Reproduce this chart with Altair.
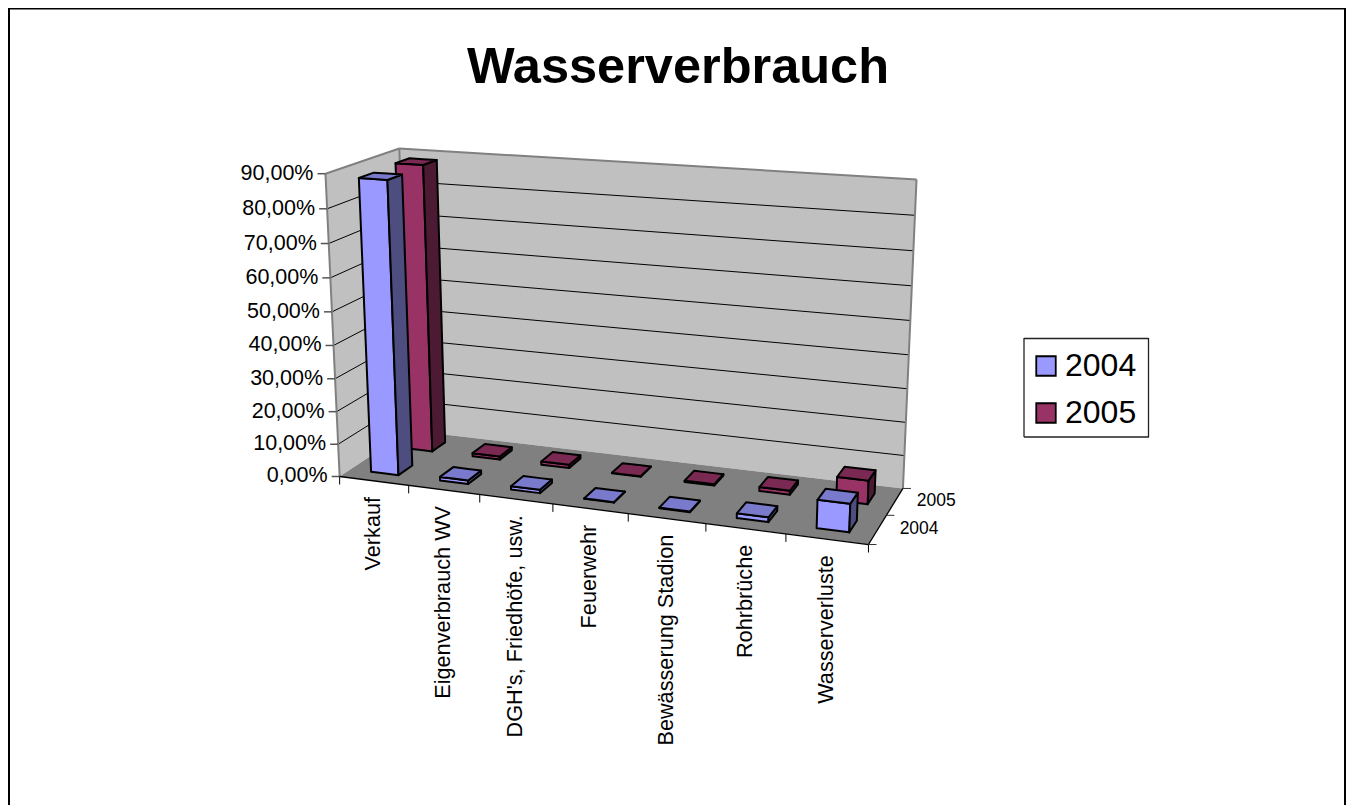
import altair as alt
import numpy as np
import pandas as pd

categories = ["Verkauf", "Eigenverbrauch WV", "DGH's, Friedhöfe, usw.", "Feuerwehr",
              "Bewässerung Stadion", "Rohrbrüche", "Wasserverluste"]
values_2004 = [88.0, 1.1, 1.0, 0.1, 0.2, 1.4, 8.2]
values_2005 = [88.5, 1.0, 1.0, 0.1, 0.4, 1.2, 7.0]
value_ticks = ["0,00%", "10,00%", "20,00%", "30,00%", "40,00%", "50,00%", "60,00%", "70,00%", "80,00%", "90,00%"]
series = ["2004", "2005"]
fills = {"2004": ("#9999FF", "#4D4D80", "#7A7ACC"), "2005": ("#993366", "#4D1A33", "#7A2952")}

W, H = 1338, 797
OX, OY = 8, 8
FONT = "Liberation Sans"

# camera calibrated from the reference's box corners and tick positions: (u, depth, z) -> pixel
calib = [((0, 0, 0), (340, 477)), ((1, 0, 0), (868.3, 544.3)), ((0, 1, 0), (410, 430)), ((1, 1, 0), (903.3, 488)),
         ((0, 0, 1), (326.7, 172.7)), ((0, 1, 1), (398, 149)), ((1, 1, 1), (916.7, 180))]
for k, px in enumerate([408, 480, 552, 628, 706, 786]):
    calib.append((((k + 1) / 7, 0, 0), (px, 477 + (px - 340) * 0.1274)))
A = []
for (u, d, z), (px, py) in calib:
    X = [u, d, z, 1]
    A.append(X + [0, 0, 0, 0] + [-px * c for c in X])
    A.append([0, 0, 0, 0] + X + [-py * c for c in X])
P = np.linalg.svd(np.array(A, float))[2][-1].reshape(3, 4)


def proj(u, d, z):
    v = P @ np.array([u, d, z, 1.0])
    return (float(v[0] / v[2]), float(v[1] / v[2]))


def area_rows(pid, pts, fill):
    xs = sorted({round(p[0], 3) for p in pts})
    rows = []
    n = len(pts)
    for x in xs:
        ys = []
        for i in range(n):
            (x0, y0), (x1, y1) = pts[i], pts[(i + 1) % n]
            lo, hi = min(x0, x1) - 1e-3, max(x0, x1) + 1e-3
            if lo <= x <= hi:
                if abs(x1 - x0) < 1e-6:
                    ys += [y0, y1]
                else:
                    ys.append(y0 + (y1 - y0) * (x - x0) / (x1 - x0))
        rows.append(dict(pid=pid, x=x, y=min(ys), y2=max(ys), fill=fill))
    return rows


xs = alt.Scale(domain=[OX, OX + W], nice=False, zero=False)
ys = alt.Scale(domain=[OY + H, OY], nice=False, zero=False)
X = alt.X("x:Q", scale=xs, axis=None)
Y = alt.Y("y:Q", scale=ys, axis=None)


def polys(rows, **kw):
    return alt.Chart(pd.DataFrame(rows)).mark_area(interpolate="linear", clip=False, **kw).encode(
        x=X, y=Y, y2="y2:Q", detail="pid:N", fill=alt.Fill("fill:N", scale=None))


def lines(rows):
    return alt.Chart(pd.DataFrame(rows)).mark_rule().encode(
        x=X, y=Y, x2="x2:Q", y2="y2:Q",
        stroke=alt.Stroke("c:N", scale=None), strokeWidth=alt.StrokeWidth("w:Q", scale=None))


def seg(p, q, c, w):
    return dict(x=p[0], y=p[1], x2=q[0], y2=q[1], c=c, w=w)


# walls and floor
wall_rows = []
wall_rows += area_rows("left", [proj(0, 0, 0), proj(0, 1, 0), proj(0, 1, 1), proj(0, 0, 1)], "#C0C0C0")
wall_rows += area_rows("back", [proj(0, 1, 0), proj(1, 1, 0), proj(1, 1, 1), proj(0, 1, 1)], "#C0C0C0")
floor_rows = area_rows("floor", [proj(0, 0, 0), proj(1, 0, 0), proj(1, 1, 0), proj(0, 1, 0)], "#808080")

line_rows = []
for k in range(1, 9):
    z = k / 9
    line_rows.append(seg(proj(0, 0, z), proj(0, 1, z), "#000000", 1))
    line_rows.append(seg(proj(0, 1, z), proj(1, 1, z), "#000000", 1))
for a, b in [((0, 0, 0), (0, 0, 1)), ((0, 0, 1), (0, 1, 1)), ((0, 1, 1), (1, 1, 1)), ((1, 1, 1), (1, 1, 0)), ((0, 1, 1), (0, 1, 0))]:
    line_rows.append(seg(proj(*a), proj(*b), "#808080", 2))
line_rows.append(seg(proj(0, 0, 0), proj(1, 0, 0), "#000000", 1.3))
line_rows.append(seg(proj(1, 0, 0), proj(1, 1, 0), "#000000", 1.3))

tick_rows = []
for k in range(10):
    p = proj(0, 0, k / 9)
    tick_rows.append(seg((p[0] - 8, p[1]), p, "#555555", 1.5))
for k in range(8):
    p = proj(k / 7, 0, 0)
    tick_rows.append(seg(p, (p[0], p[1] + 8), "#000000", 1))
for d in (0, 0.5, 1):
    p = proj(1, d, 0)
    tick_rows.append(seg(p, (p[0] + 8, p[1]), "#333333", 1))

# bars
bar_rows = []
for si, (name, vals) in reversed(list(enumerate(zip(series, (values_2004, values_2005))))):
    dc = 0.25 + 0.5 * si
    d0, d1 = dc - 0.1, dc + 0.1
    front, side, top = fills[name]
    for i, v in enumerate(vals):
        u0, u1 = (i + 0.3) / 7, (i + 0.7) / 7
        z = v / 90
        pid = f"{name}-{i}"
        bar_rows += area_rows(pid + "-f", [proj(u0, d0, 0), proj(u1, d0, 0), proj(u1, d0, z), proj(u0, d0, z)], front)
        bar_rows += area_rows(pid + "-s", [proj(u1, d0, 0), proj(u1, d1, 0), proj(u1, d1, z), proj(u1, d0, z)], side)
        bar_rows += area_rows(pid + "-t", [proj(u0, d0, z), proj(u1, d0, z), proj(u1, d1, z), proj(u0, d1, z)], top)

# texts
val_text = pd.DataFrame([dict(x=proj(0, 0, k / 9)[0] - 12, y=proj(0, 0, k / 9)[1], t=t) for k, t in enumerate(value_ticks)])
cat_text = pd.DataFrame([dict(x=proj((i + 0.5) / 7, 0, 0)[0] - 1, y=proj((i + 0.5) / 7, 0, 0)[1] + 16, t=t) for i, t in enumerate(categories)])
dep_text = pd.DataFrame([dict(x=proj(1, 0.25 + 0.5 * i, 0)[0] + 22, y=proj(1, 0.25 + 0.5 * i, 0)[1] - 1, t=t) for i, t in enumerate(series)])


def texts(df, **kw):
    return alt.Chart(df).mark_text(font=FONT, color="black", **kw).encode(x=X, y=Y, text="t:N")


frame = lines([seg((9, OY), (9, OY + H), "#000000", 2),
               seg((OX, OY + 0.5), (1345, OY + 0.5), "#000000", 2),
               seg((1345, OY), (1345, OY + H), "#000000", 2)])
legend_box = lines([seg((1024, 338.5), (1148.5, 338.5), "#222222", 1.3),
                    seg((1148.5, 338), (1148.5, 437), "#222222", 1.3),
                    seg((1024, 437), (1149, 437), "#222222", 1.3),
                    seg((1024, 338), (1024, 437), "#222222", 1.3)])

legend_layer = alt.Chart(pd.DataFrame(dict(s=series, x=[100, 100], y=[100, 100]))).mark_square(size=0).encode(
    x=X, y=Y,
    color=alt.Color("s:N", scale=alt.Scale(domain=series, range=[fills[s][0] for s in series]),
                    legend=alt.Legend(orient="none", legendX=1018 - OX, legendY=338 - OY, title=None,
                                      symbolType="square", symbolSize=380, symbolStrokeColor="black",
                                      symbolStrokeWidth=1.8, symbolOpacity=1, labelFont=FONT, labelFontSize=32,
                                      labelColor="black", padding=12, rowPadding=15, labelOffset=3, labelLimit=200)))

chart = alt.layer(
    frame,
    legend_box,
    polys(wall_rows),
    polys(floor_rows),
    lines(line_rows),
    lines(tick_rows),
    polys(bar_rows, stroke="black", strokeWidth=2, strokeJoin="round"),
    texts(val_text, align="right", baseline="middle", fontSize=21.5),
    texts(cat_text, align="right", baseline="middle", angle=270, fontSize=21.7),
    texts(dep_text, align="left", baseline="middle", fontSize=17.5),
    legend_layer,
).properties(
    width=W, height=H, padding=0,
    autosize=alt.AutoSizeParams(type="none"),
    title=alt.TitleParams("Wasserverbrauch", font=FONT, fontSize=50.5, fontWeight="bold", color="black",
                          anchor="middle", frame="group", baseline="alphabetic", offset=0, dx=1, dy=126),
).configure_view(stroke=None)

chart.save("out.html", embed_options={"renderer": "svg", "actions": False})
